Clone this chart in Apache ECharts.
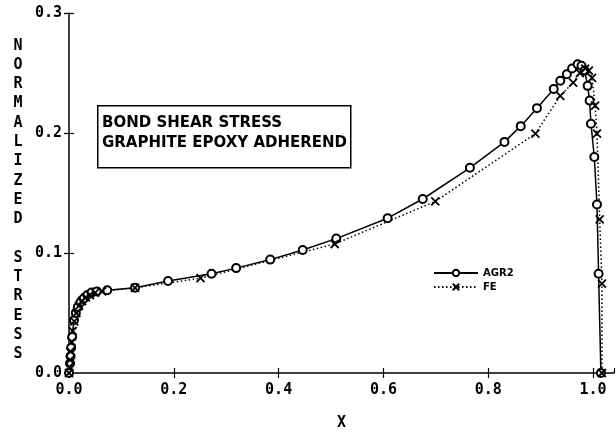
<!DOCTYPE html>
<html>
<head>
<meta charset="utf-8">
<script src="https://cdn.jsdelivr.net/npm/echarts@6/dist/echarts.min.js"></script>
<style>html,body{margin:0;padding:0;background:#fff}#c{width:616px;height:436px}</style>
</head>
<body>
<div id="c"></div>
<script>
// ---- data ----
const agrX = [0.0, 0.002, 0.003, 0.004, 0.006, 0.0095, 0.013, 0.017, 0.022, 0.028, 0.035, 0.043, 0.053, 0.073, 0.126, 0.189, 0.272, 0.319, 0.384, 0.446, 0.510, 0.608, 0.675, 0.765, 0.831, 0.862, 0.893, 0.925, 0.9375, 0.950, 0.960, 0.9706, 0.978, 0.984, 0.9897, 0.9935, 0.996, 1.0024, 1.0075, 1.0106, 1.015];
const agrY = [0.0, 0.008, 0.014, 0.021, 0.030, 0.044, 0.050, 0.055, 0.059, 0.062, 0.065, 0.067, 0.068, 0.069, 0.0711, 0.0767, 0.0827, 0.0874, 0.0945, 0.1025, 0.112, 0.129, 0.145, 0.171, 0.1926, 0.2057, 0.2207, 0.2366, 0.2435, 0.249, 0.2537, 0.2572, 0.256, 0.252, 0.2393, 0.227, 0.2077, 0.180, 0.1404, 0.0827, 0.0];
const feX = [0.0, 0.001, 0.002, 0.003, 0.005, 0.007, 0.010, 0.014, 0.019, 0.025, 0.032, 0.040, 0.050, 0.063, 0.126, 0.251, 0.507, 0.699, 0.890, 0.9375, 0.962, 0.975, 0.985, 0.992, 0.998, 1.004, 1.0075, 1.0127, 1.017, 1.017];
const feY = [0.0, 0.005, 0.011, 0.018, 0.026, 0.035, 0.043, 0.050, 0.056, 0.060, 0.063, 0.065, 0.067, 0.068, 0.071, 0.079, 0.1075, 0.143, 0.1995, 0.231, 0.242, 0.250, 0.2537, 0.252, 0.246, 0.2228, 0.1995, 0.128, 0.0745, 0.0];
const seriesNames = ['AGR2', 'FE'];
const xTicks = ['0.0', '0.2', '0.4', '0.6', '0.8', '1.0'];
const yTicks = ['0.0', '0.1', '0.2', '0.3'];
const xTitle = 'X';
const yTitle = 'NORMALIZED STRESS';
const boxLines = ['BOND SHEAR STRESS', 'GRAPHITE EPOXY ADHEREND'];

// ---- chart ----
const FONT = '"DejaVu Sans Mono", monospace';
const chart = echarts.init(document.getElementById('c'), null, {renderer: 'canvas'});
const zip = (xs, ys) => xs.map((x, i) => [x, ys[i]]);
const fmtX = v => { const s = v.toFixed(1); return xTicks.includes(s) && Math.abs(v - parseFloat(s)) < 1e-9 ? s : ''; };
const fmtY = v => { const s = v.toFixed(1); return yTicks.includes(s) ? s : ''; };
const labelStyle = {color: '#000', fontFamily: FONT, fontWeight: 'bold', fontSize: 15};
const xBase = {type: 'value', min: 0, max: 1.04, interval: 0.2, gridIndex: 0, splitLine: {show: false}};
const yBase = {type: 'value', min: 0, max: 0.3, interval: 0.1, gridIndex: 0, splitLine: {show: false}};

chart.setOption({
  animation: false,
  backgroundColor: '#fff',
  grid: {left: 69, top: 13, right: 2, bottom: 59, containLabel: false},
  xAxis: [
    Object.assign({}, xBase, {
      axisLine: {show: true, lineStyle: {color: '#000', width: 1.5}},
      axisTick: {show: true, length: 5, inside: false, lineStyle: {color: '#000', width: 1.2}},
      axisLabel: Object.assign({formatter: fmtX, margin: 10, showMaxLabel: false}, labelStyle),
      name: xTitle, nameLocation: 'middle', nameGap: 43,
      nameTextStyle: {color: '#000', fontFamily: FONT, fontWeight: 'bold', fontSize: 15}
    }),
    Object.assign({}, xBase, {
      position: 'bottom',
      axisLine: {show: false},
      axisTick: {show: true, length: 5, inside: true, lineStyle: {color: '#000', width: 1.2}},
      axisLabel: {show: false}
    })
  ],
  yAxis: [
    Object.assign({}, yBase, {
      axisLine: {show: true, lineStyle: {color: '#000', width: 1.5}},
      axisTick: {show: true, length: 5, inside: false, lineStyle: {color: '#000', width: 1.2}},
      axisLabel: Object.assign({formatter: fmtY, margin: 7}, labelStyle)
    }),
    Object.assign({}, yBase, {
      position: 'left',
      axisLine: {show: false},
      axisTick: {show: true, length: 5, inside: true, lineStyle: {color: '#000', width: 1.2}},
      axisLabel: {show: false}
    })
  ],
  legend: {
    orient: 'vertical', left: 428, top: 263, itemWidth: 44, itemHeight: 8, itemGap: 4,
    textStyle: {color: '#000', fontFamily: '"DejaVu Sans", sans-serif', fontWeight: 'bold', fontSize: 10},
    data: seriesNames
  },
  series: [
    {
      name: seriesNames[0], type: 'line', xAxisIndex: 0, yAxisIndex: 0,
      data: zip(agrX, agrY),
      symbol: 'emptyCircle', symbolSize: 8,
      lineStyle: {color: '#000', width: 1.5},
      itemStyle: {color: '#000', borderColor: '#000', borderWidth: 1.5}
    },
    {
      name: seriesNames[1], type: 'line', xAxisIndex: 0, yAxisIndex: 0,
      data: zip(feX, feY),
      symbol: 'path://M0,0L10,10M10,0L0,10', symbolSize: 8,
      lineStyle: {color: '#000', width: 1.5, type: [1.5, 2.5]},
      itemStyle: {color: '#000', borderColor: '#000', borderWidth: 1.8}
    }
  ],
  graphic: [
    {
      type: 'rect', left: 97, top: 105, z: 10,
      shape: {width: 253, height: 62},
      style: {fill: '#fff', stroke: '#000', lineWidth: 1.5}
    },
    {
      type: 'text', left: 102, top: 113, z: 11,
      style: {text: boxLines.join('\n'), fill: '#000', font: 'bold 15px "DejaVu Sans", sans-serif', lineHeight: 20}
    },
    {
      type: 'text', x: 18, y: 36, z: 11,
      style: {text: yTitle.split('').join('\n'), fill: '#000', font: 'bold 15px ' + FONT, lineHeight: 19.3, align: 'center', verticalAlign: 'top'}
    }
  ]
});
</script>
</body>
</html>
